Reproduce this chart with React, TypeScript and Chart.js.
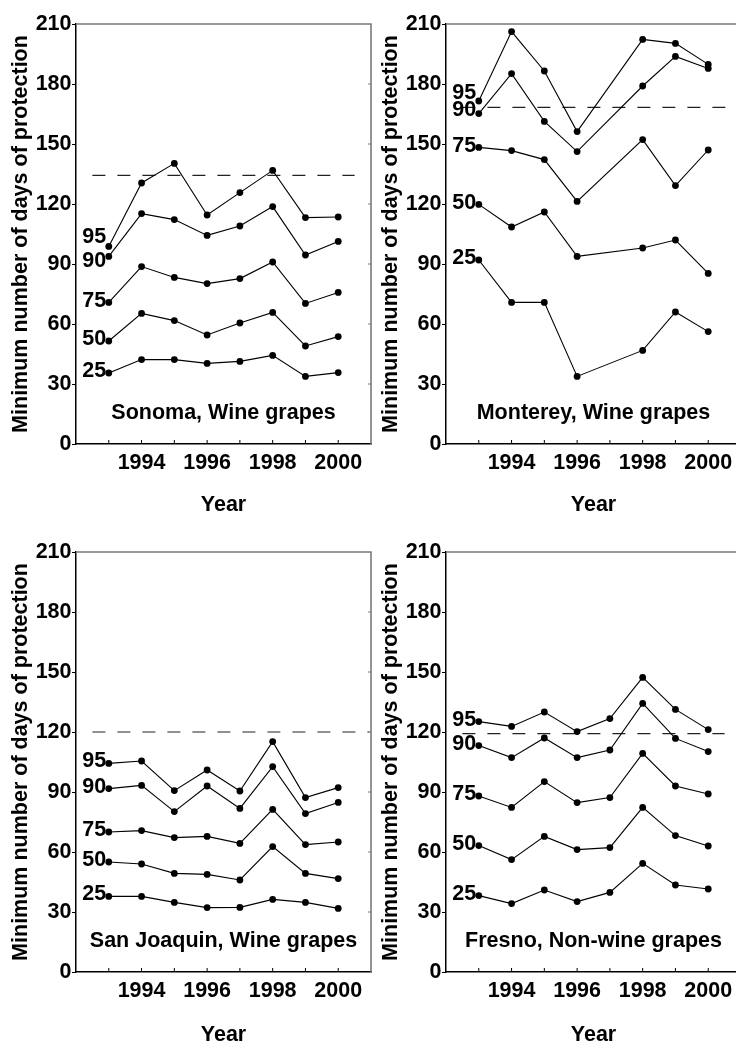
import React, { useEffect, useRef } from "react";
import { Chart, registerables } from "chart.js";

Chart.register(...registerables);

// ---------- data ----------
const years = [1993, 1994, 1995, 1996, 1997, 1998, 1999, 2000];
const percentileLabels = ["95", "90", "75", "50", "25"];
const yTicks = [0, 30, 60, 90, 120, 150, 180, 210];
const xTickLabels = [1994, 1996, 1998, 2000];

const sonoma95 = [98.8, 130.5, 140.3, 114.5, 125.7, 136.8, 113.2, 113.5];
const sonoma90 = [93.8, 115.2, 112.2, 104.3, 109.0, 118.7, 94.5, 101.3];
const sonoma75 = [70.8, 88.7, 83.3, 80.2, 82.7, 91.0, 70.3, 75.8];
const sonoma50 = [51.5, 65.3, 61.7, 54.5, 60.5, 65.8, 49.0, 53.7];
const sonoma25 = [35.5, 42.2, 42.2, 40.3, 41.3, 44.3, 33.8, 35.7];
const sonomaThreshold = 134.3;

const monterey95 = [171.5, 206.2, 186.5, 156.2, null, 202.3, 200.3, 189.8];
const monterey90 = [165.2, 185.2, 161.3, 146.2, null, 179.0, 193.8, 187.8];
const monterey75 = [148.3, 146.7, 142.2, 121.3, null, 152.2, 129.2, 147.0];
const monterey50 = [119.8, 108.5, 116.0, 93.8, null, 98.0, 102.0, 85.3];
const monterey25 = [92.0, 70.8, 70.8, 33.8, null, 46.8, 66.0, 56.2];
const montereyThreshold = 168.3;

const sanJoaquin95 = [104.3, 105.5, 90.7, 101.0, 90.5, 115.2, 87.2, 92.2];
const sanJoaquin90 = [91.7, 93.3, 80.2, 93.0, 81.8, 102.7, 79.2, 84.8];
const sanJoaquin75 = [70.0, 70.7, 67.2, 67.8, 64.3, 81.3, 63.7, 65.0];
const sanJoaquin50 = [55.0, 54.0, 49.3, 48.8, 46.0, 62.7, 49.3, 46.7];
const sanJoaquin25 = [37.8, 37.8, 34.8, 32.2, 32.3, 36.3, 34.8, 31.8];
const sanJoaquinThreshold = 120.0;

const fresno95 = [125.2, 122.8, 130.0, 120.2, 126.7, 147.3, 131.3, 121.2];
const fresno90 = [113.2, 107.2, 117.0, 107.2, 111.0, 134.3, 116.8, 110.2];
const fresno75 = [88.0, 82.3, 95.2, 84.7, 87.2, 109.3, 93.0, 89.0];
const fresno50 = [63.2, 56.2, 67.8, 61.2, 62.2, 82.3, 68.2, 63.0];
const fresno25 = [38.2, 34.2, 41.0, 35.2, 39.8, 54.3, 43.5, 41.5];
const fresnoThreshold = 119.2;

const titles = [
  "Sonoma, Wine grapes",
  "Monterey, Wine grapes",
  "San Joaquin, Wine grapes",
  "Fresno, Non-wine grapes",
];

// ---------- styling ----------
const FONT = "'Liberation Sans', Arial, Helvetica, sans-serif";
const FS = 21.5;
const X_TICK_PAD = 6;

type Panel = {
  title: string;
  series: (number | null)[][];
  threshold: number;
  thresholdEnd: number;
  left: number;
  top: number;
  labelDy: number[];
  yearPad: number;
};

const panels: Panel[] = [
  {
    title: titles[0],
    series: [sonoma95, sonoma90, sonoma75, sonoma50, sonoma25],
    threshold: sonomaThreshold,
    thresholdEnd: 2000.5,
    left: 0,
    top: 0,
    labelDy: [-9, 5, -1.5, -1.5, -1.5],
    yearPad: 2,
  },
  {
    title: titles[1],
    series: [monterey95, monterey90, monterey75, monterey50, monterey25],
    threshold: montereyThreshold,
    thresholdEnd: 2000.6,
    left: 370,
    top: 0,
    labelDy: [-8, -4, -1.5, -1.5, -1.5],
    yearPad: 2,
  },
  {
    title: titles[2],
    series: [sanJoaquin95, sanJoaquin90, sanJoaquin75, sanJoaquin50, sanJoaquin25],
    threshold: sanJoaquinThreshold,
    thresholdEnd: 2000.95,
    left: 0,
    top: 528,
    labelDy: [-2.5, -2, -2, -2, -2.5],
    yearPad: 0,
  },
  {
    title: titles[3],
    series: [fresno95, fresno90, fresno75, fresno50, fresno25],
    threshold: fresnoThreshold,
    thresholdEnd: 2000.5,
    left: 370,
    top: 528,
    labelDy: [-1.5, -1.5, -1.5, -1.5, -1.5],
    yearPad: 0,
  },
];

// chart area right edge should sit at 371 px inside each canvas;
// Chart.js reserves ticks.padding at the right of a horizontal axis.
const CW = 371 + X_TICK_PAD;
const CH = 520;

function PanelChart({ panel }: { panel: Panel }) {
  const ref = useRef<HTMLCanvasElement | null>(null);

  useEffect(() => {
    if (!ref.current) return;

    const datasets: any[] = panel.series.map((vals) => ({
      data: years.map((yr, i) => ({ x: yr, y: vals[i] })),
      borderColor: "#000",
      borderWidth: 1.1,
      pointRadius: 3.4,
      pointBackgroundColor: "#000",
      pointBorderWidth: 0,
      pointBorderColor: "#000",
      spanGaps: true,
      tension: 0,
      fill: false,
    }));
    datasets.push({
      data: [
        { x: 1992.5, y: panel.threshold },
        { x: panel.thresholdEnd, y: panel.threshold },
      ],
      borderColor: "#222",
      borderWidth: 1.2,
      borderDash: [13, 12],
      pointRadius: 0,
      fill: false,
    });

    const decor = {
      id: "decor",
      afterDraw(chart: any) {
        const { ctx, chartArea } = chart;
        const xs = chart.scales.x;
        const ys = chart.scales.y;
        ctx.save();
        // top & right frame (gray)
        ctx.strokeStyle = "#7a7a7a";
        ctx.lineWidth = 1.6;
        ctx.beginPath();
        ctx.moveTo(chartArea.left, chartArea.top);
        ctx.lineTo(chartArea.right, chartArea.top);
        ctx.lineTo(chartArea.right, chartArea.bottom);
        ctx.stroke();
        // right inward ticks
        ctx.lineWidth = 1;
        yTicks.forEach((v) => {
          if (v === 0 || v === 210) return;
          const py = ys.getPixelForValue(v);
          ctx.beginPath();
          ctx.moveTo(chartArea.right, py);
          ctx.lineTo(chartArea.right - 3, py);
          ctx.stroke();
        });
        // x inward ticks
        ctx.strokeStyle = "#000";
        ctx.lineWidth = 1;
        years.forEach((yr) => {
          const px = xs.getPixelForValue(yr);
          ctx.beginPath();
          ctx.moveTo(px, chartArea.bottom);
          ctx.lineTo(px, chartArea.bottom - 4);
          ctx.stroke();
        });
        // series labels
        ctx.fillStyle = "#000";
        ctx.font = `bold ${FS}px ${FONT}`;
        ctx.textAlign = "right";
        ctx.textBaseline = "middle";
        percentileLabels.forEach((lab, i) => {
          const meta = chart.getDatasetMeta(i);
          const pt = meta.data[0];
          if (!pt) return;
          ctx.fillText(lab, pt.x - 2.5, pt.y + panel.labelDy[i]);
        });
        // panel annotation
        ctx.textAlign = "center";
        ctx.fillText(
          panel.title,
          xs.getPixelForValue(1996.5),
          ys.getPixelForValue(15.5)
        );
        ctx.restore();
      },
    };

    const chart = new Chart(ref.current, {
      type: "line",
      data: { datasets },
      plugins: [decor],
      options: {
        animation: false,
        responsive: false,
        maintainAspectRatio: false,
        devicePixelRatio: 1,
        layout: { padding: { top: 24, right: 0, left: 0, bottom: 0 } },
        plugins: {
          legend: { display: false },
          tooltip: { enabled: false },
          title: { display: false },
        },
        scales: {
          x: {
            type: "linear",
            min: 1992,
            max: 2001,
            afterFit: (s: any) => {
              s.height = CH - 444;
            },
            afterBuildTicks: (s: any) => {
              s.ticks = [1992, ...years, 2001].map((v) => ({ value: v }));
            },
            ticks: {
              autoSkip: false,
              maxRotation: 0,
              padding: X_TICK_PAD,
              color: "#000",
              font: { family: FONT, size: FS, weight: "bold" },
              callback: (v: any) =>
                xTickLabels.includes(Number(v)) ? String(v) : "",
            },
            grid: {
              display: true,
              drawOnChartArea: false,
              drawTicks: false,
            },
            border: { display: true, color: "#000", width: 1.5 },
            title: {
              display: true,
              text: "Year",
              color: "#000",
              font: { family: FONT, size: FS, weight: "bold" },
              padding: { top: 0, bottom: panel.yearPad },
            },
          },
          y: {
            type: "linear",
            min: 0,
            max: 210,
            afterFit: (s: any) => {
              s.width = 76;
            },
            afterBuildTicks: (s: any) => {
              s.ticks = yTicks.map((v) => ({ value: v }));
            },
            ticks: {
              padding: 0.5,
              color: "#000",
              font: { family: FONT, size: FS, weight: "bold" },
            },
            grid: {
              display: true,
              drawOnChartArea: false,
              drawTicks: true,
              tickLength: 4,
              color: "#000",
              lineWidth: 1,
            },
            border: { display: true, color: "#000", width: 1.5 },
            title: {
              display: true,
              text: "Minimum number of days of protection",
              color: "#000",
              font: { family: FONT, size: FS, weight: "bold" },
              padding: { top: 8.5, bottom: 0 },
            },
          },
        },
      } as any,
    });

    return () => chart.destroy();
  }, [panel]);

  return (
    <canvas
      ref={ref}
      width={CW}
      height={CH}
      style={{
        position: "absolute",
        left: panel.left,
        top: panel.top,
        width: CW,
        height: CH,
      }}
    />
  );
}

export default function App() {
  return (
    <div
      style={{
        position: "absolute",
        left: 0,
        top: 0,
        width: 736,
        height: 1044,
        overflow: "hidden",
        background: "#fff",
      }}
    >
      {panels.map((p, i) => (
        <PanelChart key={i} panel={p} />
      ))}
    </div>
  );
}
